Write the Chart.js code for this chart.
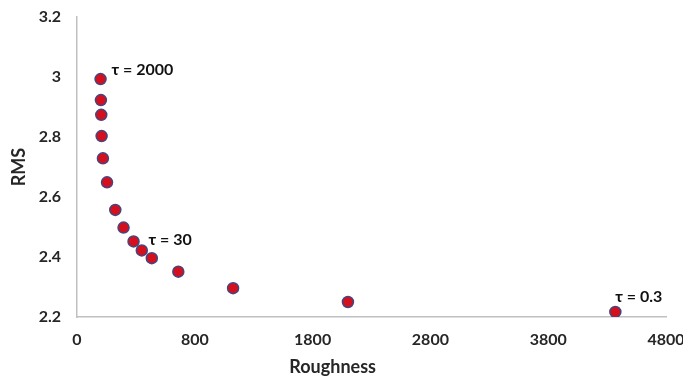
<!DOCTYPE html>
<html>
<head>
<meta charset="utf-8">
<script src="https://cdn.jsdelivr.net/npm/chart.js@4"></script>
<style>
  html, body { margin: 0; padding: 0; background: #fff; }
  #wrap { width: 683px; height: 383px; }
</style>
</head>
<body>
<div id="wrap"><canvas id="chart" width="683" height="383"></canvas></div>
<script>
// values
const roughness = [0, 3, 6, 9, 20, 55, 125, 195, 280, 350, 435, 660, 1125, 2100, 4370];
const rms = [2.993, 2.923, 2.874, 2.803, 2.729, 2.649, 2.557, 2.498, 2.452, 2.422, 2.396, 2.351, 2.296, 2.250, 2.217];
const xTickLabels = ['0', '800', '1800', '2800', '3800', '4800'];
const tauLabels = ['τ = 2000', 'τ = 30', 'τ = 0.3'];
const tauIndex = [0, 8, 14];

const font = "Lato, 'Open Sans', sans-serif";
const textColor = '#262626';

// where each tau label sits relative to its point (pixels)
const labelOffsets = [[11, -9], [15, -2], [0, -15]];

const tauPlugin = {
    id: 'tauLabels',
    afterDatasetsDraw(chart) {
        const ctx = chart.ctx;
        const xs = chart.scales.x, ys = chart.scales.y;
        ctx.save();
        ctx.font = 'bold 16px ' + font;
        ctx.fillStyle = '#111';
        ctx.textAlign = 'left';
        ctx.textBaseline = 'middle';
        tauIndex.forEach((idx, i) => {
            const px = xs.getPixelForValue(roughness[idx]);
            const py = ys.getPixelForValue(rms[idx]);
            ctx.fillText(tauLabels[i], px + labelOffsets[i][0], py + labelOffsets[i][1]);
        });
        // x axis title sits left of centre in the original
        const area = chart.chartArea;
        ctx.font = 'bold 18px ' + font;
        ctx.fillStyle = textColor;
        ctx.textAlign = 'center';
        ctx.fillText('Roughness', area.left + (area.right - area.left) * 0.434, area.bottom + 50);
        ctx.restore();
    }
};

const points = roughness.map((x, i) => ({ x: x, y: rms[i] }));

new Chart(document.getElementById('chart').getContext('2d'), {
    type: 'scatter',
    data: {
        datasets: [{
            data: points,
            pointRadius: 5.5,
            pointHoverRadius: 5.5,
            pointBackgroundColor: '#d4101e',
            pointBorderColor: '#46467e',
            pointBorderWidth: 1.5
        }]
    },
    options: {
        responsive: false,
        animation: false,
        layout: { padding: { top: 17, right: 17, left: 0, bottom: 0 } },
        plugins: {
            legend: { display: false },
            tooltip: { enabled: false }
        },
        scales: {
            x: {
                type: 'linear',
                min: -200,
                max: 4800,
                grid: { display: false, drawTicks: false },
                border: { display: true, color: '#c0c0c0', width: 1.5 },
                ticks: {
                    stepSize: 1000,
                    padding: 13,
                    color: textColor,
                    font: { family: font, size: 16, weight: 'bold' },
                    callback: (v, i) => xTickLabels[i]
                },
                afterFit: (s) => { s.height = 66; s.paddingLeft = 0; s.paddingRight = 0; }
            },
            y: {
                min: 2.2,
                max: 3.2,
                grid: { display: false, drawTicks: false },
                border: { display: true, color: '#c0c0c0', width: 1.5 },
                ticks: {
                    stepSize: 0.2,
                    padding: 16,
                    color: textColor,
                    font: { family: font, size: 16, weight: 'bold' },
                    callback: (v) => String(Math.round(v * 10) / 10)
                },
                title: {
                    display: true,
                    text: 'RMS',
                    color: textColor,
                    font: { family: font, size: 18, weight: 'bold' },
                    padding: { top: 8, bottom: 0 }
                },
                afterFit: (s) => { s.width = 77; s.paddingTop = 0; s.paddingBottom = 0; }
            }
        }
    },
    plugins: [tauPlugin]
});
</script>
</body>
</html>
